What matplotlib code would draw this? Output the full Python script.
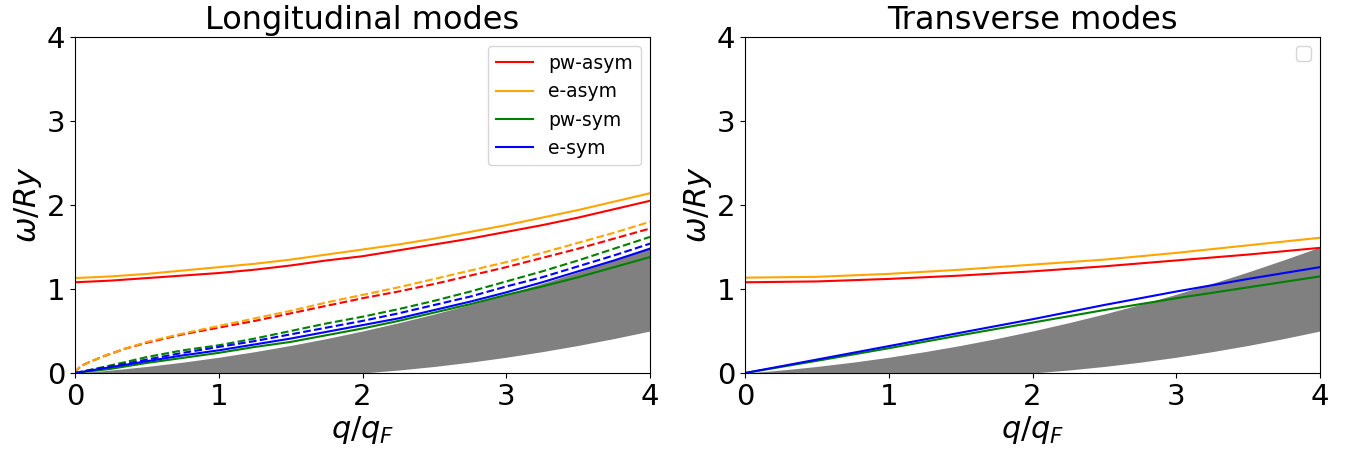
import matplotlib
matplotlib.use('Agg')
import matplotlib.pyplot as plt

# particle-hole continuum edges
q_cont = [0, 0.02, 0.05, 0.1, 0.2, 0.35, 0.5, 0.75, 1, 1.25, 1.5, 1.75, 2,
          2.25, 2.5, 2.75, 3, 3.25, 3.5, 3.75, 4]
cont_upper = [0, 0.0025, 0.0064, 0.0131, 0.0275, 0.0514, 0.0781, 0.1289, 0.1875,
              0.2539, 0.3281, 0.4102, 0.5, 0.5977, 0.7031, 0.8164, 0.9375,
              1.0664, 1.2031, 1.3477, 1.5]
cont_lower = [0, 0, 0, 0, 0, 0, 0, 0, 0, 0, 0, 0, 0, 0.0352, 0.0781, 0.1289,
              0.1875, 0.2539, 0.3281, 0.4102, 0.5]

# longitudinal modes
q_long = [0, 0.25, 0.5, 0.75, 1, 1.25, 1.5, 1.75, 2, 2.25, 2.5, 2.75, 3,
          3.25, 3.5, 3.75, 4]
long_pw_asym = [1.08, 1.10, 1.13, 1.16, 1.19, 1.23, 1.28, 1.34, 1.39, 1.46,
                1.53, 1.60, 1.68, 1.76, 1.85, 1.95, 2.05]
long_e_asym = [1.13, 1.15, 1.18, 1.22, 1.26, 1.30, 1.35, 1.41, 1.47, 1.53,
               1.60, 1.68, 1.76, 1.85, 1.94, 2.04, 2.14]
long_pw_sym = [0, 0.05, 0.12, 0.18, 0.24, 0.31, 0.37, 0.45, 0.53, 0.62, 0.72,
               0.82, 0.93, 1.03, 1.14, 1.26, 1.38]
long_e_sym = [0, 0.07, 0.14, 0.21, 0.27, 0.34, 0.41, 0.49, 0.57, 0.65, 0.75,
              0.85, 0.96, 1.08, 1.21, 1.34, 1.48]

# dashed branches (longitudinal panel)
q_dash = [0, 0.02, 0.05, 0.1, 0.2, 0.35, 0.5, 0.75, 1, 1.25, 1.5, 1.75, 2,
          2.25, 2.5, 2.75, 3, 3.25, 3.5, 3.75, 4]
dash_pw_asym = [0, 0.05, 0.09, 0.13, 0.20, 0.29, 0.36, 0.46, 0.54, 0.62, 0.71,
                0.80, 0.89, 0.97, 1.06, 1.16, 1.26, 1.37, 1.48, 1.60, 1.72]
dash_e_asym = [0, 0.05, 0.09, 0.13, 0.20, 0.29, 0.37, 0.47, 0.56, 0.65, 0.74,
               0.84, 0.93, 1.02, 1.12, 1.22, 1.32, 1.43, 1.55, 1.67, 1.80]
dash_pw_sym = [0, 0.007, 0.018, 0.036, 0.072, 0.13, 0.19, 0.27, 0.33, 0.41,
               0.50, 0.59, 0.67, 0.76, 0.86, 0.97, 1.09, 1.21, 1.34, 1.48, 1.62]
dash_e_sym = [0, 0.006, 0.016, 0.032, 0.064, 0.11, 0.16, 0.24, 0.31, 0.38,
              0.46, 0.54, 0.62, 0.71, 0.81, 0.91, 1.03, 1.14, 1.27, 1.40, 1.54]

# transverse modes
q_trans = [0, 0.5, 1, 1.5, 2, 2.5, 3, 3.5, 4]
trans_pw_asym = [1.08, 1.09, 1.12, 1.16, 1.21, 1.27, 1.34, 1.41, 1.49]
trans_e_asym = [1.135, 1.145, 1.18, 1.23, 1.29, 1.35, 1.43, 1.52, 1.61]
trans_pw_sym = [0, 0.145, 0.295, 0.45, 0.60, 0.75, 0.89, 1.02, 1.15]
trans_e_sym = [0, 0.16, 0.32, 0.48, 0.64, 0.81, 0.97, 1.12, 1.26]

fig, (ax1, ax2) = plt.subplots(1, 2, figsize=(13.59, 4.55), dpi=100)
ax1.set_position([75 / 1359, 82 / 455, 575 / 1359, 336 / 455])
ax2.set_position([745 / 1359, 82 / 455, 575 / 1359, 336 / 455])

# Longitudinal
ax1.fill_between(q_cont, cont_lower, cont_upper, color='gray', linewidth=0)
ax1.plot(q_long, long_pw_asym, color='red', label='pw-asym')
ax1.plot(q_long, long_e_asym, color='orange', label='e-asym')
ax1.plot(q_long, long_pw_sym, color='green', label='pw-sym')
ax1.plot(q_long, long_e_sym, color='blue', label='e-sym')
ax1.plot(q_dash, dash_pw_asym, color='red', linestyle='--')
ax1.plot(q_dash, dash_e_asym, color='orange', linestyle='--')
ax1.plot(q_dash, dash_pw_sym, color='green', linestyle='--')
ax1.plot(q_dash, dash_e_sym, color='blue', linestyle='--')
ax1.legend(loc='upper right', fontsize=13.5)
ax1.set_title('Longitudinal modes', fontsize=23)

# Transverse
ax2.fill_between(q_cont, cont_lower, cont_upper, color='gray', linewidth=0)
ax2.plot(q_trans, trans_pw_asym, color='red')
ax2.plot(q_trans, trans_e_asym, color='orange')
ax2.plot(q_trans, trans_pw_sym, color='green')
ax2.plot(q_trans, trans_e_sym, color='blue')
ax2.legend(loc='upper right', fontsize=13.5)
ax2.set_title('Transverse modes', fontsize=23)

for ax in (ax1, ax2):
    ax.set_xlim(0, 4)
    ax.set_ylim(0, 4)
    ax.set_xticks([0, 1, 2, 3, 4])
    ax.set_yticks([0, 1, 2, 3, 4])
    ax.tick_params(labelsize=21)
    ax.set_xlabel(r'$q/q_F$', fontsize=22, labelpad=2)
    ax.set_ylabel(r'$\omega/Ry$', fontsize=22, labelpad=2)

fig.savefig('out.png', dpi=100)
